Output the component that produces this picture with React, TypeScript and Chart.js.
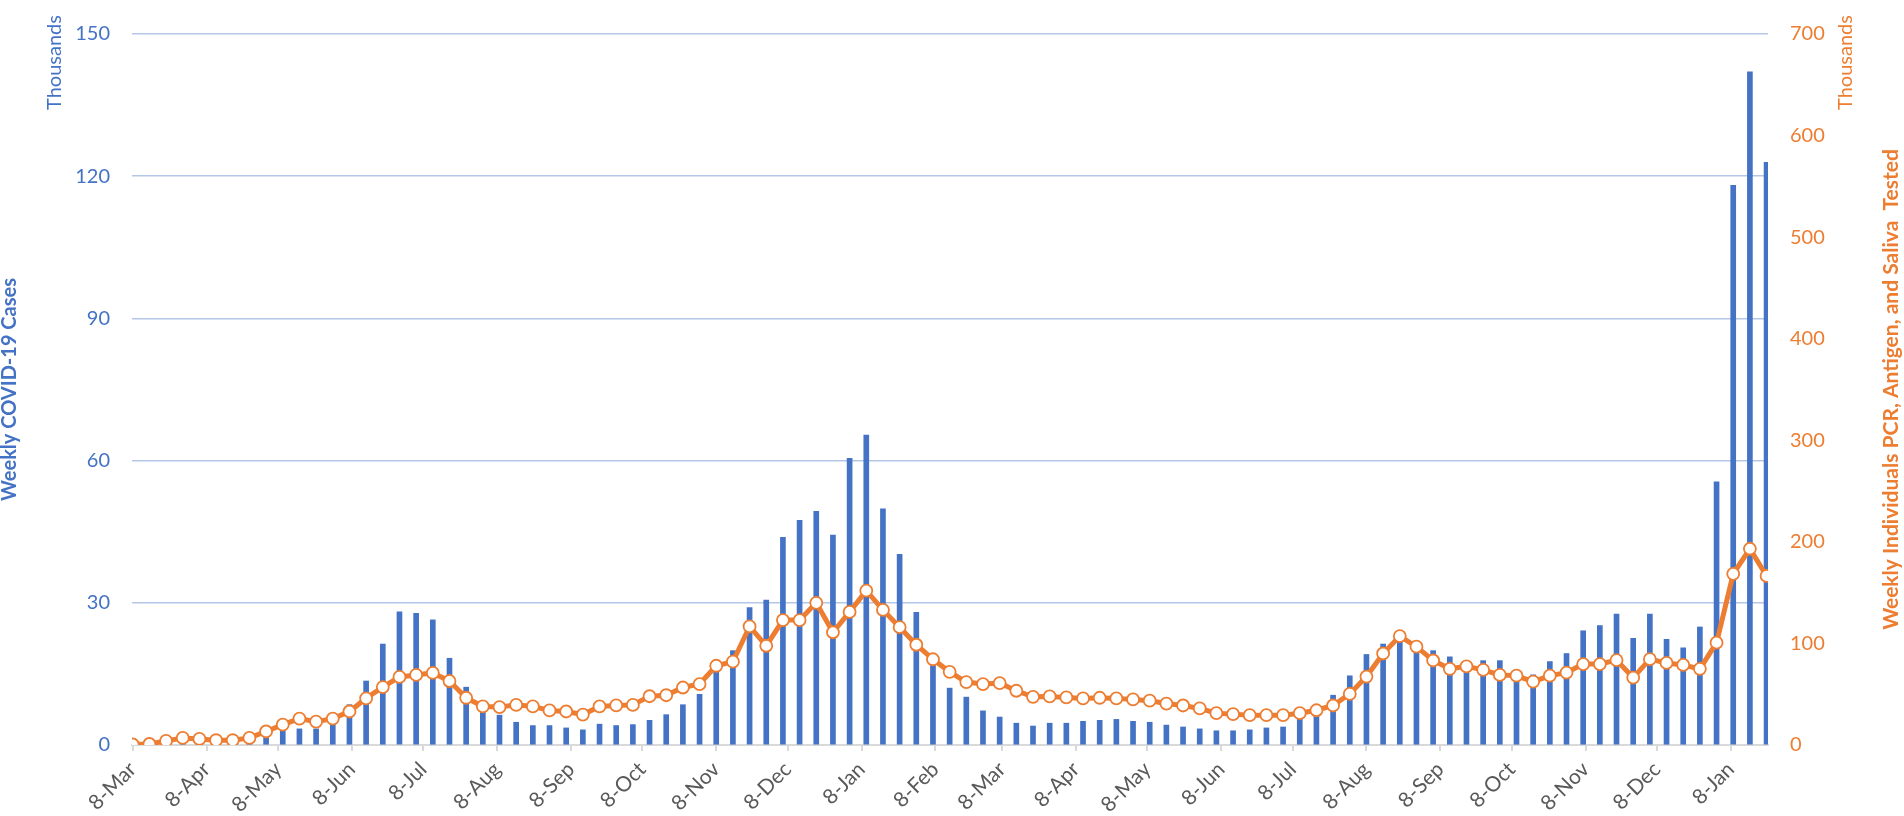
import React, { useEffect, useRef } from "react";
import { Chart, registerables } from "chart.js";

Chart.register(...registerables);

// Week-ending dates (categories)
const weekDates = [
  "2020-03-08", "2020-03-15", "2020-03-22", "2020-03-29",
  "2020-04-05", "2020-04-12", "2020-04-19", "2020-04-26",
  "2020-05-03", "2020-05-10", "2020-05-17", "2020-05-24", "2020-05-31",
  "2020-06-07", "2020-06-14", "2020-06-21", "2020-06-28",
  "2020-07-05", "2020-07-12", "2020-07-19", "2020-07-26",
  "2020-08-02", "2020-08-09", "2020-08-16", "2020-08-23", "2020-08-30",
  "2020-09-06", "2020-09-13", "2020-09-20", "2020-09-27",
  "2020-10-04", "2020-10-11", "2020-10-18", "2020-10-25",
  "2020-11-01", "2020-11-08", "2020-11-15", "2020-11-22", "2020-11-29",
  "2020-12-06", "2020-12-13", "2020-12-20", "2020-12-27",
  "2021-01-03", "2021-01-10", "2021-01-17", "2021-01-24", "2021-01-31",
  "2021-02-07", "2021-02-14", "2021-02-21", "2021-02-28",
  "2021-03-07", "2021-03-14", "2021-03-21", "2021-03-28",
  "2021-04-04", "2021-04-11", "2021-04-18", "2021-04-25",
  "2021-05-02", "2021-05-09", "2021-05-16", "2021-05-23", "2021-05-30",
  "2021-06-06", "2021-06-13", "2021-06-20", "2021-06-27",
  "2021-07-04", "2021-07-11", "2021-07-18", "2021-07-25",
  "2021-08-01", "2021-08-08", "2021-08-15", "2021-08-22", "2021-08-29",
  "2021-09-05", "2021-09-12", "2021-09-19", "2021-09-26",
  "2021-10-03", "2021-10-10", "2021-10-17", "2021-10-24", "2021-10-31",
  "2021-11-07", "2021-11-14", "2021-11-21", "2021-11-28",
  "2021-12-05", "2021-12-12", "2021-12-19", "2021-12-26",
  "2022-01-02", "2022-01-09", "2022-01-16", "2022-01-23",
];

// Weekly COVID-19 cases (thousands) - left axis
const weeklyCases = [
  0.1, 0.2, 0.4, 0.8, 0.7, 0.6, 0.5, 0.6,
  2.2, 3.0, 3.4, 3.4, 4.7,
  8.5, 13.5, 21.3, 28.1,
  27.8, 26.4, 18.3, 12.2,
  7.5, 6.3, 4.8, 4.1, 4.1,
  3.6, 3.2, 4.4, 4.1,
  4.3, 5.2, 6.4, 8.5,
  10.7, 16.5, 19.9, 29.0, 30.6,
  43.8, 47.4, 49.3, 44.3,
  60.5, 65.4, 49.8, 40.2, 28.0,
  18.0, 12.0, 10.1, 7.2,
  5.9, 4.6, 4.0, 4.6,
  4.6, 5.0, 5.2, 5.4,
  5.0, 4.8, 4.2, 3.8, 3.4,
  3.0, 3.0, 3.2, 3.6,
  3.8, 5.8, 6.6, 10.5,
  14.6, 19.1, 21.3, 23.0, 20.3,
  19.9, 18.6, 17.0, 17.8,
  17.8, 15.8, 14.8, 17.6, 19.3,
  24.1, 25.2, 27.6, 22.5,
  27.6, 22.3, 20.5, 24.9,
  55.5, 118.1, 142.0, 122.9,
];

// Weekly individuals PCR, antigen and saliva tested (thousands) - right axis
const weeklyTested = [
  0.5, 1, 4, 7, 6, 4.7, 4.7, 7,
  13.3, 20, 26, 23, 26,
  33, 46, 57, 67,
  69, 71, 63, 46.5,
  38, 37.3, 39.5, 38, 34,
  33, 30, 38, 39,
  39.5, 48, 49, 56.6,
  60, 78, 82, 116.7, 97.7,
  123, 123, 140, 111,
  131, 152, 133, 116, 98.7,
  84.4, 72, 62, 60,
  61, 53.4, 47.4, 47.8,
  46.8, 45.9, 46.5, 45.9,
  44.9, 43.6, 40.8, 38.9, 36,
  31.3, 30.4, 29.4, 29.4,
  29.4, 31.3, 34.2, 38.9,
  50.3, 67.4, 90.1, 107.2, 96.8,
  83.2, 75, 77.5, 74,
  69, 68.3, 62.3, 68.3, 71.2,
  79.7, 79.7, 83.5, 66.4,
  84.5, 80.8, 78.8, 75,
  100.7, 168.5, 193.2, 166.5,
];

// X-axis tick dates and labels
const tickDates = [
  "2020-03-08", "2020-04-08", "2020-05-08", "2020-06-08", "2020-07-08",
  "2020-08-08", "2020-09-08", "2020-10-08", "2020-11-08", "2020-12-08",
  "2021-01-08", "2021-02-08", "2021-03-08", "2021-04-08", "2021-05-08",
  "2021-06-08", "2021-07-08", "2021-08-08", "2021-09-08", "2021-10-08",
  "2021-11-08", "2021-12-08", "2022-01-08",
];
const tickLabels = [
  "8-Mar", "8-Apr", "8-May", "8-Jun", "8-Jul", "8-Aug", "8-Sep", "8-Oct",
  "8-Nov", "8-Dec", "8-Jan", "8-Feb", "8-Mar", "8-Apr", "8-May", "8-Jun",
  "8-Jul", "8-Aug", "8-Sep", "8-Oct", "8-Nov", "8-Dec", "8-Jan",
];

const leftTitle = "Weekly COVID-19 Cases";
const rightTitle = "Weekly Individuals PCR, Antigen, and Saliva  Tested";
const unitLabel = "Thousands";

const BLUE = "#4472C4";
const ORANGE = "#ED7D31";
const FONT = "Lato";

const START = Date.UTC(2020, 2, 8);
function dayIndex(s: string): number {
  const [y, m, d] = s.split("-").map(Number);
  return Math.round((Date.UTC(y, m - 1, d) - START) / 86400000);
}

const annotations = {
  id: "annotations",
  afterDraw(chart: any) {
    const ctx = chart.ctx as CanvasRenderingContext2D;
    const area = chart.chartArea;
    const drawV = (text: string, x: number, y: number, font: string, color: string) => {
      ctx.save();
      ctx.translate(x, y);
      ctx.rotate(-Math.PI / 2);
      ctx.font = font;
      ctx.fillStyle = color;
      ctx.textAlign = "center";
      ctx.textBaseline = "middle";
      ctx.fillText(text, 0, 0);
      ctx.restore();
    };
    drawV(unitLabel, 55, 62.5, `20px ${FONT}`, BLUE);
    drawV(unitLabel, 1845.5, 62.5, `20px ${FONT}`, ORANGE);
    drawV(rightTitle, chart.width - 12.5, (area.top + area.bottom) / 2, `bold 21px ${FONT}`, ORANGE);
  },
};

export default function App() {
  const ref = useRef<HTMLCanvasElement | null>(null);

  useEffect(() => {
    if (!ref.current) return;
    const xs = weekDates.map(dayIndex);
    const chart = new Chart(ref.current, {
      type: "bar",
      data: {
        datasets: [
          {
            type: "line",
            label: rightTitle,
            data: xs.map((x, i) => ({ x, y: weeklyTested[i] })),
            yAxisID: "y2",
            borderColor: ORANGE,
            borderWidth: 5,
            backgroundColor: "#FFFFFF",
            pointBackgroundColor: "#FFFFFF",
            pointBorderColor: ORANGE,
            pointBorderWidth: 1.8,
            pointRadius: 6,
            tension: 0,
            order: 0,
          } as any,
          {
            type: "bar",
            label: leftTitle,
            data: xs.map((x, i) => ({ x, y: weeklyCases[i] })),
            yAxisID: "y",
            backgroundColor: BLUE,
            barThickness: 5,
            order: 1,
          } as any,
        ],
      },
      options: {
        responsive: false,
        animation: false,
        devicePixelRatio: 1,
        layout: { autoPadding: false, padding: { top: 7, left: 0, right: 0, bottom: 0 } } as any,
        plugins: {
          legend: { display: false },
          tooltip: { enabled: false },
        },
        scales: {
          x: {
            type: "linear",
            min: -0.3,
            max: 686.6,
            offset: false,
            afterBuildTicks: (scale: any) => {
              scale.ticks = tickDates.map((d) => ({ value: dayIndex(d) }));
            },
            afterFit: (scale: any) => {
              scale.height = 71;
            },
            grid: {
              display: true,
              drawOnChartArea: false,
              drawTicks: true,
              tickLength: 6,
              color: "#D9D9D9",
              lineWidth: 2,
              offset: false,
            },
            border: { display: true, color: "#D9D9D9", width: 2 },
            ticks: {
              autoSkip: false,
              minRotation: 45,
              maxRotation: 45,
              padding: 6,
              color: "#595959",
              font: { family: FONT, size: 21 },
              callback: (_v: any, i: number) => tickLabels[i],
            },
          },
          y: {
            type: "linear",
            position: "left",
            min: 0,
            max: 150,
            afterFit: (scale: any) => {
              scale.width = 132;
            },
            ticks: {
              stepSize: 30,
              padding: 22,
              color: BLUE,
              font: { family: FONT, size: 20 },
            },
            grid: {
              drawTicks: false,
              lineWidth: 1.5,
              color: (c: any) => (c.tick && c.tick.value === 0 ? "rgba(0,0,0,0)" : "#B4C7E7"),
            },
            border: { display: false },
            title: {
              display: true,
              text: leftTitle,
              color: BLUE,
              font: { family: FONT, size: 20, weight: "bold", lineHeight: 1 },
              padding: 0,
            },
          },
          y2: {
            type: "linear",
            position: "right",
            min: 0,
            max: 700,
            afterFit: (scale: any) => {
              scale.width = 136;
            },
            ticks: {
              stepSize: 100,
              padding: 22,
              color: ORANGE,
              font: { family: FONT, size: 20 },
            },
            grid: { display: false, drawTicks: false },
            border: { display: false },
          },
        },
      } as any,
      plugins: [annotations],
    });
    return () => chart.destroy();
  }, []);

  return (
    <div style={{ position: "fixed", left: 0, top: 0, width: 1904, height: 816, background: "#FFFFFF" }}>
      <canvas ref={ref} width={1904} height={816} style={{ width: 1904, height: 816, display: "block" }} />
    </div>
  );
}
